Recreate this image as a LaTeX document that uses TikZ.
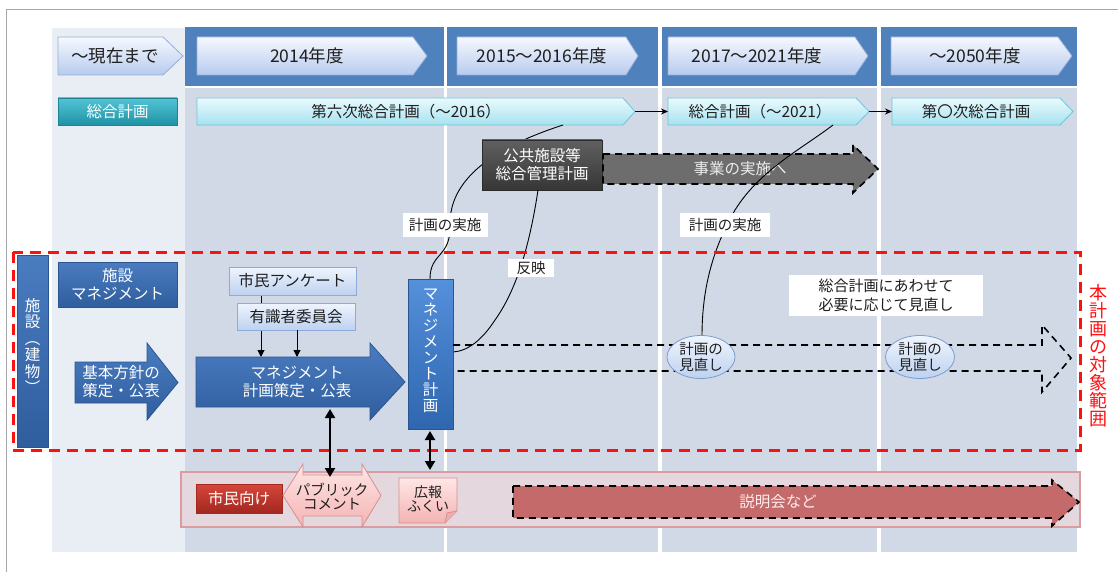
\documentclass[tikz,border=0pt]{standalone}
\usepackage{fontspec}
\setmainfont{Noto Sans CJK JP}
\usetikzlibrary{arrows.meta,shapes.geometric}
\definecolor{framegray}{HTML}{A6A6A6}
\definecolor{leftbg}{HTML}{E9EEF5}
\definecolor{colbg}{HTML}{D1D9E7}
\definecolor{band}{HTML}{4F81BD}
\definecolor{hdrtop}{HTML}{F6F8FE}
\definecolor{hdrbot}{HTML}{B7CBEE}
\definecolor{hdrline}{HTML}{93AEDB}
\definecolor{cyantop}{HTML}{EAFAFD}
\definecolor{cyanbot}{HTML}{A6E2EF}
\definecolor{cyanline}{HTML}{70C4D6}
\definecolor{tealtop}{HTML}{52C4D4}
\definecolor{tealbot}{HTML}{1F93A6}
\definecolor{tealline}{HTML}{1E8495}
\definecolor{bluetop}{HTML}{4A7CC0}
\definecolor{bluebot}{HTML}{2F5E9E}
\definecolor{blueline}{HTML}{2B5590}
\definecolor{mptop}{HTML}{5590DA}
\definecolor{mpbot}{HTML}{2F66B0}
\definecolor{darktop}{HTML}{606060}
\definecolor{darkbot}{HTML}{363636}
\definecolor{grayarrow}{HTML}{6D6D6D}
\definecolor{lboxtop}{HTML}{F0F5FD}
\definecolor{lboxbot}{HTML}{BDD1F0}
\definecolor{lboxline}{HTML}{8EA9DB}
\definecolor{ellline}{HTML}{7C9CCC}
\definecolor{pinkpanel}{HTML}{E4D7DD}
\definecolor{pinkpanelline}{HTML}{DA9C9E}
\definecolor{redtop}{HTML}{D6463B}
\definecolor{redbot}{HTML}{A3281F}
\definecolor{pinktop}{HTML}{FFE6E6}
\definecolor{pinkbot}{HTML}{F4B3B3}
\definecolor{pinkline}{HTML}{D68F8F}
\definecolor{smfill}{HTML}{C56A6B}
\definecolor{txtdark}{HTML}{1E1E1E}
\definecolor{scoperred}{HTML}{FF1010}
\newcommand{\pentshape}[6]{\path[#6] (#1,#2) -- ({#3-#5},#2) -- (#3,{(#2+#4)/2}) -- ({#3-#5},#4) -- (#1,#4) -- cycle;}
\newcommand{\blockarrow}[8]{\path[#8] (#1,#2) -- (#4,#2) -- (#4,#5) -- (#7,{(#2+#3)/2}) -- (#4,#6) -- (#4,#3) -- (#1,#3) -- cycle;}
\begin{document}
\begin{tikzpicture}[x=1pt,y=-1pt,
  txt/.style={font=\fontsize{15.5}{18}\selectfont, align=center, inner sep=0pt, text=txtdark},
  hdrtxt/.style={font=\fontsize{17.5}{20}\selectfont, align=center, inner sep=0pt, text=txtdark},
  wtxt/.style={txt, text=white},
  smalltxt/.style={font=\fontsize{14.5}{16}\selectfont, align=center, inner sep=0pt, text=txtdark},
  hdrfill/.style={top color=hdrtop, bottom color=hdrbot, draw=hdrline, line width=0.8pt},
  cyanfill/.style={top color=cyantop, bottom color=cyanbot, draw=cyanline, line width=0.8pt},
  tealfill/.style={top color=tealtop, bottom color=tealbot, draw=tealline, line width=0.8pt},
  bluefill/.style={top color=bluetop, bottom color=bluebot, draw=blueline, line width=0.8pt},
  lboxfill/.style={top color=lboxtop, bottom color=lboxbot, draw=lboxline, line width=0.8pt},
  pinkfill/.style={top color=pinktop, bottom color=pinkbot, draw=pinkline, line width=0.8pt},
  thinline/.style={draw=black, line width=0.9pt},
  conn/.style={draw=black, line width=0.9pt, -{Stealth[length=7pt,width=6pt]}},
  smallarrow/.style={draw=black, line width=1pt, -{Triangle[length=7pt,width=7pt]}},
  dblarrow/.style={draw=black, line width=2pt, {Triangle[length=9pt,width=10pt]}-{Triangle[length=9pt,width=10pt]}},
  blkdash/.style={draw=black, line width=1.6pt, dash pattern=on 7pt off 5pt},
  label/.style={fill=white, inner sep=0pt, font=\fontsize{14.5}{17}\selectfont, text=txtdark, align=center}
]
\useasboundingbox (0,0) rectangle (1118,572);
% frame
\draw[framegray, line width=1pt] (6,572) -- (6,10) -- (1118,10);
% backgrounds
\fill[leftbg] (52,28) rectangle (185,552);
\fill[band] (185,27) rectangle (1077,86);
\fill[colbg] (185,88) rectangle (444,552);
\fill[colbg] (447,88) rectangle (658,552);
\fill[colbg] (662,88) rectangle (877,552);
\fill[colbg] (881,88) rectangle (1077,552);
\fill[white] (444,27) rectangle (447,86);
\fill[white] (658,27) rectangle (662,86);
\fill[white] (877,27) rectangle (881,86);

% header row
\pentshape{58}{37}{183}{75}{20}{hdrfill}
\node[hdrtxt] (h0) at (115,56) {〜現在まで};
\pentshape{197}{37}{427}{75}{14}{hdrfill}
\node[hdrtxt] (h1) at (307,56) {2014年度};
\pentshape{457}{37}{638}{75}{12}{hdrfill}
\node[hdrtxt] (h2) at (542,56) {2015〜2016年度};
\pentshape{668}{37}{868}{75}{13}{hdrfill}
\node[hdrtxt] (h3) at (757,56) {2017〜2021年度};
\pentshape{891}{37}{1072}{75}{14}{hdrfill}
\node[hdrtxt] (h4) at (975,56) {〜2050年度};

% comprehensive plan row
\path[tealfill] (58,98) rectangle (177,125);
\node[wtxt] (sg) at (117.5,111.5) {総合計画};
\pentshape{197}{98}{635}{125}{12}{cyanfill}
\node[txt] (c1) at (406,111.5) {第六次総合計画（〜2016）};
\pentshape{668}{98}{869}{125}{13}{cyanfill}
\node[txt] (c2) at (760,111.5) {総合計画（〜2021）};
\pentshape{892}{98}{1073}{125}{13}{cyanfill}
\node[txt] (c3) at (976,111.5) {第〇次総合計画};
\coordinate (c1tip) at (635,111.5);
\coordinate (c2w) at (668,111.5);
\coordinate (c2tip) at (869,111.5);
\coordinate (c3w) at (892,111.5);
\draw[conn] (c1tip) -- (c2w);
\draw[conn] (c2tip) -- (c3w);

% anchor coordinates for curves
\coordinate (c1s) at (563,125);
\coordinate (c2s) at (833,125);
\coordinate (mpn) at (430,279);
\coordinate (mpe) at (453,352);
\coordinate (kbs) at (538,190);
\coordinate (e1n) at (702,336);

% curve A (behind the dark box)
\draw[thinline] (mpn) .. controls (430,252) and (451,258) .. (450,225) .. controls (449,180) and (492,148) .. (c1s);

% dark box
\path[top color=darktop, bottom color=darkbot, draw=darkbot!80!black, line width=0.8pt] (482,140) rectangle (602,190);
\node[wtxt] (kb) at (542,165) {公共施設等\\総合管理計画};

% gray dashed arrow
\blockarrow{603}{154}{184}{853}{145}{193}{878}{fill=grayarrow, blkdash}
\node[txt, text=white!85!gray] (jg) at (740,169) {事業の実施へ};

% curve B
\draw[thinline] (kbs) .. controls (529,250) and (515,292) .. (495,320) .. controls (482,340) and (468,351) .. (mpe);
% curve C
\draw[thinline] (e1n) .. controls (702,290) and (712,250) .. (735,210) .. controls (760,170) and (800,150) .. (c2s);

% labels on curves
\node[label, minimum width=85pt, minimum height=24pt] (la) at (445,225) {計画の実施};
\node[label, minimum width=46pt, minimum height=18pt] (lb) at (531,268) {反映};
\node[label, minimum width=90pt, minimum height=24pt] (lc) at (725,225) {計画の実施};

% red dashed scope
\draw[scoperred, line width=3pt, dash pattern=on 11pt off 7pt] (13,252) rectangle (1080,450);
\node[font=\fontsize{18}{18}\selectfont, text=scoperred, align=center, inner sep=0pt] (scope) at (1098,356) {本\\計\\画\\の\\対\\象\\範\\囲};

% left blue boxes
\path[bluefill] (17,255) rectangle (48,447);
\node[wtxt, font=\fontsize{15.5}{16.5}\selectfont] (sk) at (32.5,346) {施\\設\\︵\\建\\物\\︶};
\path[bluefill] (58,262) rectangle (177,307);
\node[wtxt] (sm) at (117.5,284.5) {施設\\マネジメント};

% basic policy arrow
\blockarrow{75}{362}{403}{147}{343}{420}{178}{bluefill}
\node[wtxt] (kh1) at (121,382) {基本方針の\\策定・公表};

% management arrow
\blockarrow{196}{357}{407}{370}{343}{420}{405}{bluefill}
\node[wtxt] (ma) at (297,382) {マネジメント\\計画策定・公表};

% survey boxes
\coordinate (maTopA) at (261,357);
\coordinate (maTopB) at (297,357);
\coordinate (sqS) at (261,295);
\coordinate (yuS) at (297,330);
\draw[smallarrow] (sqS) -- (maTopA);
\path[lboxfill] (229,267) rectangle (356,295);
\node[txt] (sq) at (292.5,281) {市民アンケート};
\path[lboxfill] (237,303) rectangle (355,330);
\node[txt] (yu) at (296,316.5) {有識者委員会};
\draw[smallarrow] (yuS) -- (maTopB);

% management plan vertical box
\path[top color=mptop, bottom color=mpbot, draw=blueline, line width=0.8pt] (408,279) rectangle (453,429);
\node[wtxt, font=\fontsize{15.5}{16}\selectfont] (mp) at (430.5,351) {マ\\ネ\\ジ\\メ\\ン\\ト\\計\\画};

% open dashed arrow outline
\coordinate (mpe1) at (453,345);
\coordinate (mpe2) at (453,371);
\draw[blkdash] (mpe1) -- (1042,345) -- (1042,325) -- (1071,358) -- (1042,392) -- (1042,371) -- (mpe2);

% ellipses
\node[ellipse, top color=lboxtop, bottom color=lboxbot, draw=ellline, line width=0.8pt, minimum width=68pt, minimum height=43pt, inner sep=0pt] (e1) at (701,357) {};
\node[smalltxt] at (e1) {計画の\\見直し};
\node[ellipse, top color=lboxtop, bottom color=lboxbot, draw=ellline, line width=0.8pt, minimum width=69pt, minimum height=43pt, inner sep=0pt] (e2) at (920,357) {};
\node[smalltxt] at (e2) {計画の\\見直し};

% note
\node[fill=white, minimum width=194pt, minimum height=41pt, inner sep=0pt, font=\fontsize{15}{19}\selectfont, text=txtdark, align=center] (nt) at (886,295.5) {総合計画にあわせて\\必要に応じて見直し};

% bottom panel
\path[fill=pinkpanel, draw=pinkpanelline, line width=1.5pt] (181,472) rectangle (1080,527);
\path[top color=redtop, bottom color=redbot, draw=redbot, line width=0.8pt] (196,484) rectangle (282,513);
\node[wtxt] (sh) at (239,498.5) {市民向け};

% public comment double arrow
\path[pinkfill] (283,495.5) -- (303,464) -- (303,475) -- (362,475) -- (362,464) -- (381,495.5) -- (362,527) -- (362,516) -- (303,516) -- (303,527) -- cycle;
\node[font=\fontsize{14.5}{14}\selectfont, align=center, inner sep=0pt, text=txtdark] (pc) at (332,496) {パブリック\\コメント};

% koho note
\path[pinkfill] (399,478) -- (457,478) -- (457,511) -- (445,523) -- (399,523) -- cycle;
\path[fill=pinkbot!80!pinkline, draw=pinkline, line width=0.8pt] (457,511) -- (447,513) -- (445,523);
\node[font=\fontsize{14}{14}\selectfont, align=center, inner sep=0pt, text=txtdark] (kf) at (428,499) {広報\\ふくい};

% vertical double arrows
\coordinate (maS) at (330,409);
\coordinate (pcN) at (330,477);
\coordinate (mpS) at (430,431);
\coordinate (kfN) at (430,470);
\draw[dblarrow] (maS) -- (pcN);
\draw[dblarrow] (mpS) -- (kfN);

% explanation meetings arrow
\blockarrow{513}{486}{518}{1052}{480}{526}{1079}{fill=smfill, blkdash}
\node[txt, text=white!92!red] (sk2) at (778,502) {説明会など};
\end{tikzpicture}
\end{document}
